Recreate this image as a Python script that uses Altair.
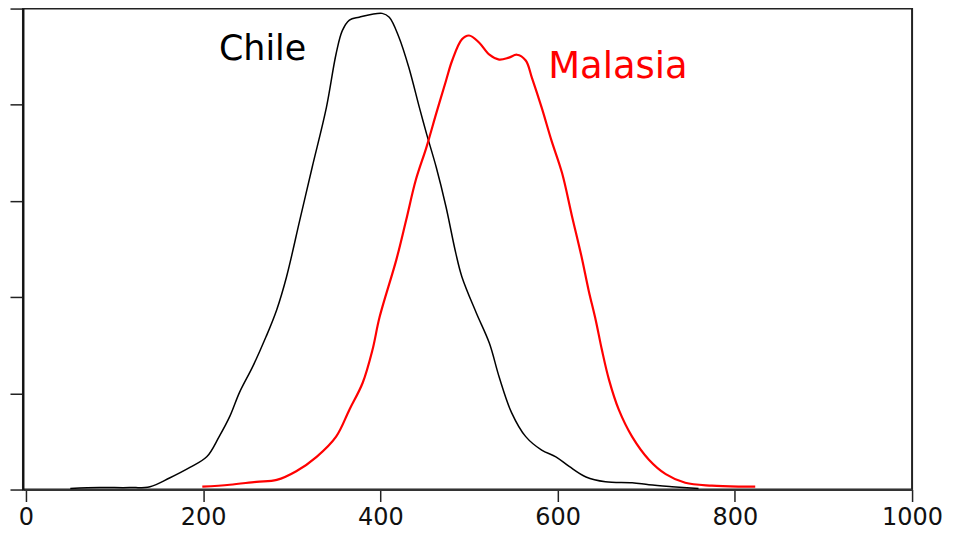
import altair as alt
import pandas as pd

chile_x = [50, 83, 117, 140, 162, 185, 204, 218, 230, 241, 256, 271, 283, 294, 309, 323, 339, 350,
           357, 365, 376, 402, 410, 421, 432, 444, 452, 463, 474, 485, 492, 508, 523, 534, 548,
           564, 582, 598, 613, 632, 654, 684, 703, 729, 759]
chile_y = [0.01, 0.02, 0.02, 0.03, 0.12, 0.23, 0.34, 0.55, 0.76, 1.01, 1.28, 1.59, 1.87, 2.21, 2.80,
           3.35, 3.97, 4.53, 4.77, 4.88, 4.91, 4.95, 4.91, 4.70, 4.39, 3.97, 3.70, 3.35, 2.94, 2.46,
           2.21, 1.84, 1.52, 1.17, 0.80, 0.55, 0.41, 0.34, 0.24, 0.13, 0.08, 0.07, 0.05, 0.03, 0.01]

malasia_x = [199, 230, 260, 283, 305, 328, 350, 365, 380, 391, 399, 418, 429, 440, 452, 463, 474,
             481, 492, 500, 511, 523, 534, 545, 554, 564, 571, 582, 593, 605, 616, 627, 635, 643,
             650, 658, 669, 684, 703, 722, 744, 774, 804, 823]
malasia_y = [0.03, 0.05, 0.08, 0.10, 0.19, 0.34, 0.55, 0.83, 1.11, 1.45, 1.79, 2.39, 2.80, 3.22,
             3.56, 3.91, 4.25, 4.46, 4.68, 4.72, 4.65, 4.52, 4.47, 4.49, 4.52, 4.46, 4.28, 3.97,
             3.63, 3.29, 2.85, 2.42, 2.07, 1.76, 1.45, 1.14, 0.83, 0.55, 0.31, 0.16, 0.07, 0.04,
             0.03, 0.03]

x_ticks = [0, 200, 400, 600, 800, 1000]
y_ticks = [0, 1, 2, 3, 4, 5]

chile = pd.DataFrame({"x": chile_x, "y": chile_y})
malasia = pd.DataFrame({"x": malasia_x, "y": malasia_y})

xscale = alt.Scale(domain=[-3.4, 1000], nice=False, zero=False)
yscale = alt.Scale(domain=[0, 5], nice=False)

xax = alt.Axis(values=x_ticks, format="d", title=None, grid=False, tickSize=12, tickColor="#222",
               domainColor="#333", domainWidth=2, tickWidth=1.5, labelFont="DejaVu Sans",
               labelFontSize=24, labelColor="#111", labelPadding=4, labelFlush=False)
yax = alt.Axis(values=y_ticks, title=None, grid=False, labels=False, tickSize=13,
               tickColor="#222", domainColor="#111", domainWidth=2, tickWidth=1.5)

black_line = alt.Chart(chile).mark_line(color="black", strokeWidth=1.5, interpolate="catmull-rom").encode(
    x=alt.X("x:Q", scale=xscale, axis=xax),
    y=alt.Y("y:Q", scale=yscale, axis=yax),
)
red_line = alt.Chart(malasia).mark_line(color="#ff0000", strokeWidth=2.2, interpolate="catmull-rom").encode(
    x=alt.X("x:Q", scale=xscale),
    y=alt.Y("y:Q", scale=yscale),
)

chile_label = alt.Chart().mark_text(text="Chile", font="DejaVu Sans", fontSize=35, color="black",
                                    align="center", baseline="alphabetic").encode(
    x=alt.datum(267, scale=xscale), y=alt.datum(4.47, scale=yscale))
malasia_label = alt.Chart().mark_text(text="Malasia", font="DejaVu Sans", fontSize=37, color="#ff0000",
                                      align="center", baseline="alphabetic").encode(
    x=alt.datum(668, scale=xscale), y=alt.datum(4.28, scale=yscale))

chart = alt.layer(black_line, red_line, chile_label, malasia_label).properties(
    width=891, height=482,
    autosize=alt.AutoSizeParams(type="none"),
    padding={"left": 15, "top": 0, "right": 35, "bottom": 43},
    background="white",
).configure_view(stroke="#222", strokeWidth=2)

chart.save("out.html", embed_options={"renderer": "svg", "actions": False})
